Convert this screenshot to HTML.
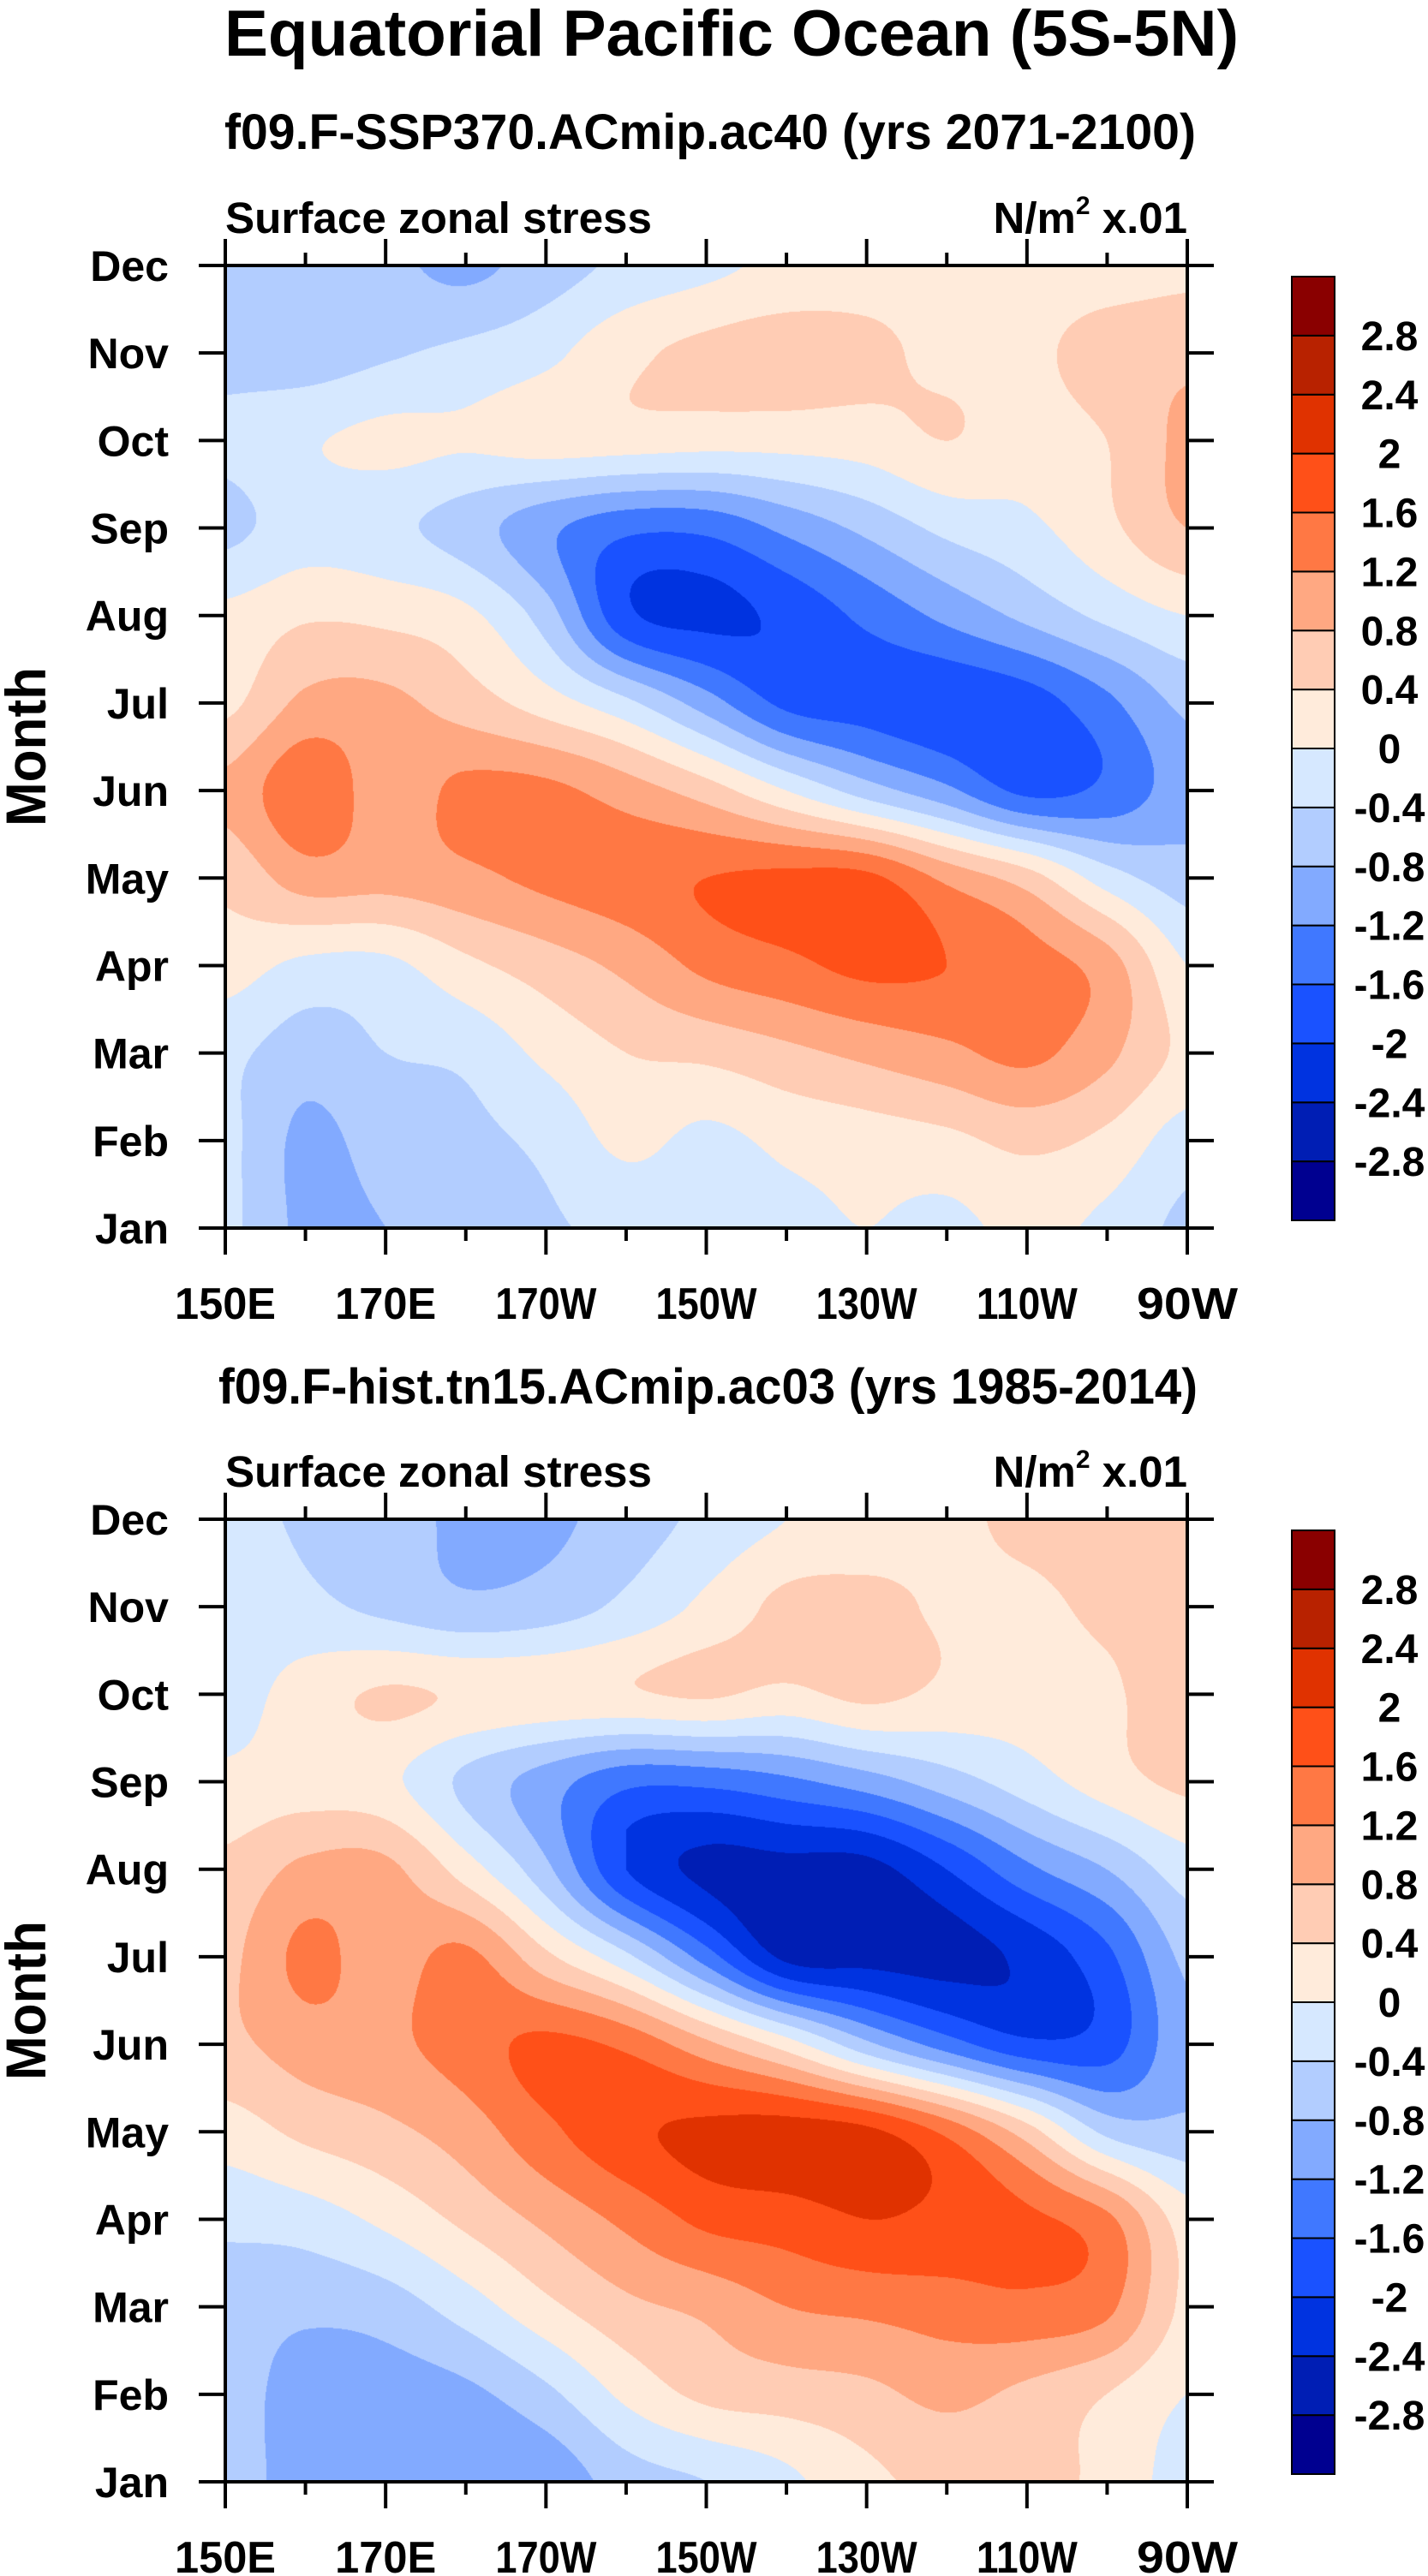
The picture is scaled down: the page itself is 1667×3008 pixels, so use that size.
<!DOCTYPE html>
<html><head><meta charset="utf-8">
<style>
html,body{margin:0;padding:0;background:#fff;}
#wrap{position:relative;width:1667px;height:3008px;overflow:hidden;background:#fff;}
canvas{position:absolute;}
svg{position:absolute;left:0;top:0;}
text{font-family:"Liberation Sans",sans-serif;font-weight:bold;fill:#000;}
</style></head>
<body>
<div id="wrap">
<canvas id="c1" width="1123" height="1124" style="left:263px;top:310px"></canvas>
<canvas id="c2" width="1123" height="1124" style="left:263px;top:1774px"></canvas>
<svg id="svg" width="1667" height="3008">
<text x="262" y="65" font-size="76" textLength="1184" lengthAdjust="spacingAndGlyphs">Equatorial Pacific Ocean (5S-5N)</text>
</svg>
</div>
<script>
// ---- data ----
const months = ["Jan","Feb","Mar","Apr","May","Jun","Jul","Aug","Sep","Oct","Nov","Dec"];
const lons = [150,160,170,180,190,200,210,220,230,240,250,260,270];
const xTickLons = [150,170,190,210,230,250,270];
const xTickLabels = ["150E","170E","170W","150W","130W","110W","90W"];
const levels = [-2.8,-2.4,-2,-1.6,-1.2,-0.8,-0.4,0,0.4,0.8,1.2,1.6,2,2.4,2.8];
const levelLabels = ["2.8","2.4","2","1.6","1.2","0.8","0.4","0","-0.4","-0.8","-1.2","-1.6","-2","-2.4","-2.8"];
const colors = ["#000090","#001eb4","#0033e0","#1a52ff","#4078ff","#82aaff","#b2cdff","#d6e8ff","#ffebdb","#ffccb4","#ffa882","#ff7844","#ff5018","#e03200","#b82200","#8a0000"];
// SSP370 (rows Jan..Dec, columns lons)
const valuesSSP = [
 [-0.3,-0.9,-0.8,-0.6,-0.45,-0.3,-0.2,-0.1,0.0,-0.1,0.1,-0.1,-0.5],
 [-0.3,-0.9,-0.6,-0.5,-0.3,0.1,-0.1,0.1,0.2,0.3,0.5,0.3,-0.2],
 [-0.3,-0.6,-0.4,-0.3,0.1,0.4,0.5,0.7,0.9,1.1,1.3,0.9,0.3],
 [0.2,-0.1,-0.1,0.3,0.6,0.9,1.3,1.5,1.7,1.6,1.4,1.0,0.0],
 [0.5,1.0,0.95,1.1,1.3,1.45,1.6,1.7,1.7,1.1,0.6,-0.2,-0.6],
 [0.9,1.5,1.0,1.3,1.3,1.0,0.6,0.0,-0.6,-1.1,-1.7,-1.5,-1.0],
 [0.3,0.9,0.9,0.6,0.2,-0.3,-1.0,-1.7,-1.8,-1.9,-1.8,-1.3,-0.7],
 [0.1,0.35,0.3,0.1,-0.6,-1.9,-2.1,-1.9,-1.5,-1.1,-0.7,-0.3,0.0],
 [-0.5,-0.2,-0.3,-0.6,-1.1,-1.5,-1.5,-1.1,-0.7,-0.3,-0.1,0.3,0.8],
 [-0.3,-0.05,0.1,0.05,0.2,0.2,0.15,0.15,0.2,0.4,0.2,0.4,0.9],
 [-0.5,-0.6,-0.45,-0.3,-0.1,0.3,0.5,0.6,0.5,0.3,0.3,0.6,0.7],
 [-0.4,-0.6,-0.7,-0.9,-0.6,-0.3,-0.1,0.1,0.2,0.2,0.2,0.2,0.3]
];
// historical
const valuesHist = [
 [-0.6,-1.0,-1.1,-1.2,-1.1,-0.6,-0.4,-0.1,0.3,0.5,0.5,0.3,-0.2],
 [-0.6,-1.0,-1.0,-0.9,-0.5,0.1,0.5,0.6,0.7,0.9,0.7,0.4,0.0],
 [-0.6,-0.7,-0.6,-0.2,0.3,0.7,0.9,1.2,1.3,1.4,1.5,1.3,0.3],
 [-0.3,-0.2,0.1,0.5,0.9,1.3,1.7,1.8,2.0,1.9,1.7,1.3,0.2],
 [0.2,0.5,0.7,1.0,1.5,1.9,2.1,2.2,2.1,1.5,0.6,-0.5,-0.7],
 [0.7,1.0,1.1,1.4,1.7,1.5,0.9,0.2,-0.7,-1.4,-1.9,-1.8,-0.9],
 [0.7,1.3,1.0,1.3,0.5,-0.3,-1.4,-2.5,-2.55,-2.55,-2.3,-1.7,-0.7],
 [0.5,0.9,0.9,0.2,-0.7,-2.0,-2.5,-2.55,-2.55,-2.0,-1.3,-0.8,-0.2],
 [0.1,0.2,0.1,-0.5,-1.0,-1.5,-1.5,-1.3,-1.0,-0.6,-0.2,0.2,0.5],
 [-0.2,0.2,0.45,0.35,0.3,0.35,0.45,0.3,0.5,0.3,0.2,0.3,0.8],
 [-0.2,-0.3,-0.5,-0.7,-0.6,-0.3,0.1,0.5,0.5,0.35,0.3,0.5,0.6],
 [-0.3,-0.45,-0.6,-0.9,-0.9,-0.6,-0.3,0.0,0.2,0.3,0.5,0.6,0.6]
];

// ---- geometry ----
const X0=263, X1=1386, PH=1124;
const plots=[{top:310,canvas:'c1',vals:valuesSSP,sub:"f09.F-SSP370.ACmip.ac40 (yrs 2071-2100)",subY:174,subX:262,subW:1134,key:'ssp370'},
             {top:1774,canvas:'c2',vals:valuesHist,sub:"f09.F-hist.tn15.ACmip.ac03 (yrs 1985-2014)",subY:1639,subX:255,subW:1143,key:'hist'}];
function xScale(lon){return X0+(lon-lons[0])/(lons[lons.length-1]-lons[0])*(X1-X0);}
function yScale(top,mi){return top+PH-mi/(months.length-1)*PH;}
function hex(c){return [parseInt(c.slice(1,3),16),parseInt(c.slice(3,5),16),parseInt(c.slice(5,7),16)];}
const rgb=colors.map(hex);
function cr(p0,p1,p2,p3,t){return 0.5*((2*p1)+(-p0+p2)*t+(2*p0-5*p1+4*p2-p3)*t*t+(-p0+3*p1-3*p2+p3)*t*t*t);}
function sample(V,r,c){
  const R=V.length,C=V[0].length;
  const r0=Math.floor(r),c0=Math.floor(c);const tr=r-r0,tc=c-c0;
  const rows=[];
  for(let i=-1;i<=2;i++){
    const ri=Math.min(R-1,Math.max(0,r0+i));const row=V[ri];
    const g=j=>row[Math.min(C-1,Math.max(0,c0+j))];
    rows.push(cr(g(-1),g(0),g(1),g(2),tc));
  }
  let v=cr(rows[0],rows[1],rows[2],rows[3],tr);
  const ra=Math.min(R-1,r0),rb=Math.min(R-1,r0+1),ca=Math.min(C-1,c0),cb=Math.min(C-1,c0+1);
  const q=[V[ra][ca],V[ra][cb],V[rb][ca],V[rb][cb]];
  const lo=Math.min(...q),hi=Math.max(...q);
  return Math.max(lo,Math.min(hi,v));
}
function drawField(p){
  const cv=document.getElementById(p.canvas);const ctx=cv.getContext('2d');
  const W=cv.width,H=cv.height;const img=ctx.createImageData(W,H);
  const R=p.vals.length,C=p.vals[0].length;
  for(let y=0;y<H;y++){
    const r=(H-1-y)/(H-1)*(R-1);
    for(let x=0;x<W;x++){
      const c=x/(W-1)*(C-1);
      const v=sample(p.vals,r,c);
      let k=0;while(k<levels.length&&v>=levels[k])k++;
      const o=(y*W+x)*4;const col=rgb[k];
      img.data[o]=col[0];img.data[o+1]=col[1];img.data[o+2]=col[2];img.data[o+3]=255;
    }
  }
  ctx.putImageData(img,0,0);
}
const NS='http://www.w3.org/2000/svg';
const svg=document.getElementById('svg');
function mk(tag,attrs,txt){const e=document.createElementNS(NS,tag);for(const k in attrs)e.setAttribute(k,attrs[k]);if(txt!==undefined)e.textContent=txt;svg.appendChild(e);return e;}
function line(x1,y1,x2,y2,w){return mk('line',{x1:x1,y1:y1,x2:x2,y2:y2,stroke:'#000','stroke-width':w});}

plots.forEach(p=>{
  drawField(p);
  const top=p.top,bot=top+PH;
  let t=mk('text',{x:p.subX,y:p.subY,'font-size':58,textLength:p.subW,lengthAdjust:'spacingAndGlyphs'},p.sub);
  
  
  t=mk('text',{x:263,y:top-38,'font-size':51,textLength:498,lengthAdjust:'spacingAndGlyphs'},'Surface zonal stress');
  
  
  t=mk('text',{x:1386,y:top-38,'font-size':51,'text-anchor':'end'});
  
  
  t.innerHTML='N/m<tspan font-size="30" dy="-22">2</tspan><tspan dy="22"> x.01</tspan>';
  const fr=mk('rect',{x:X0,y:top,width:X1-X0,height:PH,fill:'none',stroke:'#000','stroke-width':4});
  
  
  for(let lon=150;lon<=270;lon+=10){
    const x=xScale(lon);const major=(lon-150)%20===0;const L=major?31:15;
    line(x,bot,x,bot+L,4);line(x,top,x,top-L,4);
  }
  xTickLons.forEach((lon,i)=>{
    const e=mk('text',{x:xScale(lon),y:bot+106,'font-size':52,'text-anchor':'middle',textLength:118,lengthAdjust:'spacingAndGlyphs'},xTickLabels[i]);
    
    
  });
  months.forEach((m,i)=>{
    const y=yScale(top,i);
    line(X0-31,y,X0,y,4);line(X1,y,X1+31,y,4);
    const e=mk('text',{x:197,y:y+18,'font-size':50,'text-anchor':'end'},m);
    
    
  });
  const yt=mk('text',{x:53,y:top+PH/2,'font-size':66,'text-anchor':'middle',transform:'rotate(-90 53 '+(top+PH/2)+')',textLength:186,lengthAdjust:'spacingAndGlyphs'},'Month');
  
  
  const cbT=top+13,cbB=bot-9,n=colors.length,bh=(cbB-cbT)/n;
  for(let k=0;k<n;k++){
    const r=mk('rect',{x:1508,y:cbB-(k+1)*bh,width:50,height:bh,fill:colors[k],stroke:'#000','stroke-width':2});
    
    
  }
  levelLabels.forEach((lab,i)=>{
    const y=cbT+(i+1)*bh;
    const e=mk('text',{x:1622,y:y+17,'font-size':48,'text-anchor':'middle'},lab);
    
    
  });
});
</script>
</body></html>
